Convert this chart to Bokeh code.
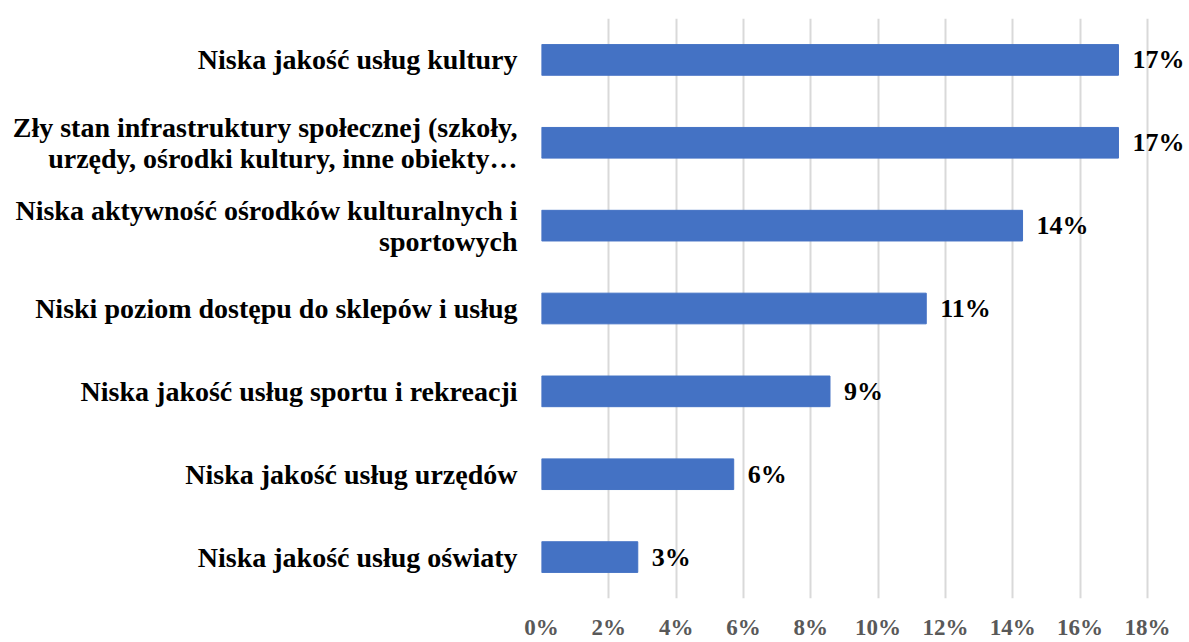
from bokeh.plotting import figure
from bokeh.models import FactorRange, Range1d, FixedTicker, PrintfTickFormatter, ColumnDataSource
from bokeh.core.properties import value
from bokeh.embed import file_html
from bokeh.resources import INLINE

categories = [
    "Niska jakość usług kultury",
    "Zły stan infrastruktury społecznej (szkoły,\nurzędy, ośrodki kultury, inne obiekty…",
    "Niska aktywność ośrodków kulturalnych i\nsportowych",
    "Niski poziom dostępu do sklepów i usług",
    "Niska jakość usług sportu i rekreacji",
    "Niska jakość usług urzędów",
    "Niska jakość usług oświaty",
]
values = [17.14, 17.14, 14.29, 11.43, 8.57, 5.71, 2.86]
value_labels = ["17%", "17%", "14%", "11%", "9%", "6%", "3%"]
x_ticks = [0, 2, 4, 6, 8, 10, 12, 14, 16, 18]

FONT = "'Liberation Serif', 'Times New Roman', serif"

src = ColumnDataSource(dict(cat=categories, val=values, lab=value_labels))

p = figure(
    width=1189, height=642,
    y_range=FactorRange(factors=list(reversed(categories))),
    x_range=Range1d(0, 19.25),
    output_backend="svg", toolbar_location=None,
    min_border_left=541, min_border_right=0, min_border_top=18, min_border_bottom=0,
)
p.outline_line_color = None
p.background_fill_color = "white"

p.hbar(y="cat", right="val", left=0, height=0.37, source=src, color="#4472C4")
p.text(x="val", y="cat", text="lab", source=src, x_offset=14,
       text_align="left", text_baseline="middle",
       text_font=value(FONT), text_font_style="bold", text_font_size="26px",
       text_color="black")

p.xaxis.ticker = FixedTicker(ticks=x_ticks)
p.xaxis.formatter = PrintfTickFormatter(format="%d%%")
p.xaxis.axis_line_color = None
p.xaxis.major_tick_line_color = None
p.xaxis.minor_tick_line_color = None
p.xaxis.major_tick_out = 0
p.xaxis.major_tick_in = 0
p.xaxis.minor_tick_out = 0
p.xaxis.major_label_text_font = FONT
p.xaxis.major_label_text_font_style = "bold"
p.xaxis.major_label_text_font_size = "23px"
p.xaxis.major_label_text_color = "#595959"
p.xaxis.major_label_standoff = 16

p.yaxis.axis_line_color = None
p.yaxis.major_tick_line_color = None
p.yaxis.major_tick_out = 0
p.yaxis.major_tick_in = 0
p.yaxis.major_label_text_font = FONT
p.yaxis.major_label_text_font_style = "bold"
p.yaxis.major_label_text_font_size = "28px"
p.yaxis.major_label_text_color = "black"
p.yaxis.major_label_text_line_height = 1.0
p.yaxis.major_label_standoff = 24

p.xgrid.ticker = FixedTicker(ticks=x_ticks)
p.xgrid.grid_line_color = "#D9D9D9"
p.xgrid.grid_line_width = 2
p.ygrid.grid_line_color = None

open("out.html", "w").write(file_html(p, INLINE))
